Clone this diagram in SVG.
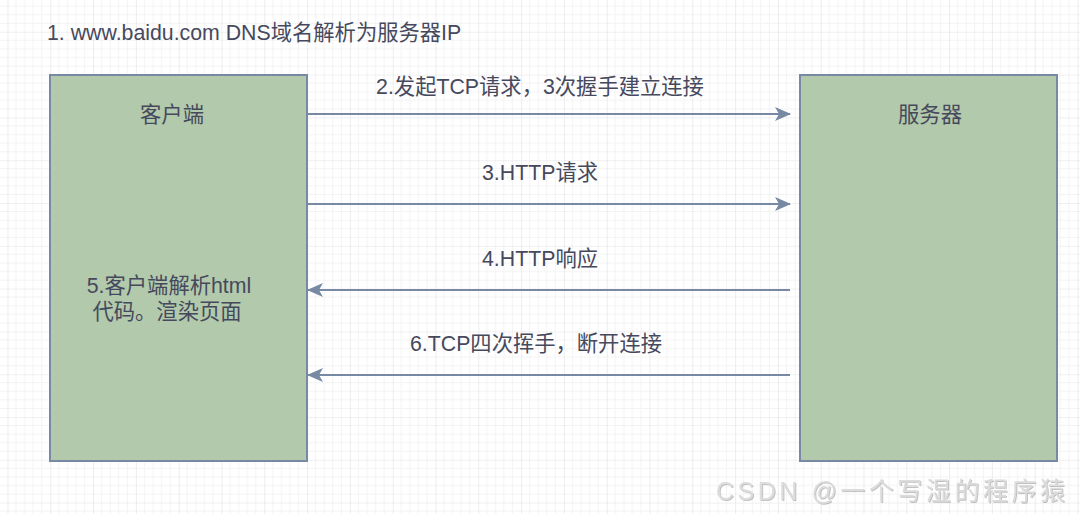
<svg xmlns="http://www.w3.org/2000/svg" width="1080" height="514" viewBox="0 0 1080 514">
<style>
.t{font-family:"Liberation Sans","Noto Sans CJK SC",sans-serif;font-size:21.3px;fill:#46495d}
.box{fill:#b2c9ab;stroke:#788aa3;stroke-width:2}
.edge{stroke:#788aa3;stroke-width:2;fill:none}
.wm{font-family:"Liberation Sans","Noto Sans CJK SC",sans-serif;font-size:25px;fill:#dcdcdc}
</style>
<defs>
<pattern id="grid" patternUnits="userSpaceOnUse" x="7.5" y="31.8" width="42.8" height="42.8">
<path d="M8.56 0V42.8M17.12 0V42.8M25.68 0V42.8M34.24 0V42.8M0 8.56H42.8M0 17.12H42.8M0 25.68H42.8M0 34.24H42.8" stroke="#f3f3f3" stroke-width="1" fill="none"/>
<path d="M0 0V42.8M0 0H42.8" stroke="#e2e2e2" stroke-width="1.2" fill="none"/>
</pattern>
<marker id="arr" viewBox="0 0 16 16" refX="15" refY="8" markerWidth="16" markerHeight="16" markerUnits="userSpaceOnUse" orient="auto">
<path d="M0 1L16 8L0 15L4 8Z" fill="#788aa3"/>
</marker>
<filter id="sh" x="-5%" y="-20%" width="110%" height="140%">
<feDropShadow dx="1" dy="1" stdDeviation="0.4" flood-color="#999" flood-opacity="0.6"/>
</filter>
</defs>
<rect width="1080" height="514" fill="#ffffff"/>
<rect width="1080" height="514" fill="url(#grid)"/>
<text class="t" x="47" y="40">1. www.baidu.com DNS域名解析为服务器IP</text>
<g id="client">
<rect class="box" x="50" y="75" width="257" height="386"/>
<text class="t" x="172" y="122" text-anchor="middle">客户端</text>
<text class="t" x="169" y="293" text-anchor="middle">5.客户端解析html</text>
<text class="t" x="167" y="319" text-anchor="middle">代码。渲染页面</text>
</g>
<g id="server">
<rect class="box" x="800" y="75" width="257" height="386"/>
<text class="t" x="930" y="122" text-anchor="middle">服务器</text>
</g>
<g id="connectors">
<line class="edge" x1="308" y1="114" x2="790" y2="114" marker-end="url(#arr)"/>
<line class="edge" x1="308" y1="204" x2="790" y2="204" marker-end="url(#arr)"/>
<line class="edge" x1="790" y1="290" x2="308" y2="290" marker-end="url(#arr)"/>
<line class="edge" x1="790" y1="375" x2="308" y2="375" marker-end="url(#arr)"/>
<text class="t" x="540" y="94" text-anchor="middle">2.发起TCP请求，3次握手建立连接</text>
<text class="t" x="540" y="180" text-anchor="middle">3.HTTP请求</text>
<text class="t" x="540" y="266" text-anchor="middle">4.HTTP响应</text>
<text class="t" x="536" y="351" text-anchor="middle">6.TCP四次挥手，断开连接</text>
</g>
<text class="wm" x="716" y="500" textLength="349" lengthAdjust="spacing" filter="url(#sh)">CSDN @一个写湿的程序猿</text>
</svg>
